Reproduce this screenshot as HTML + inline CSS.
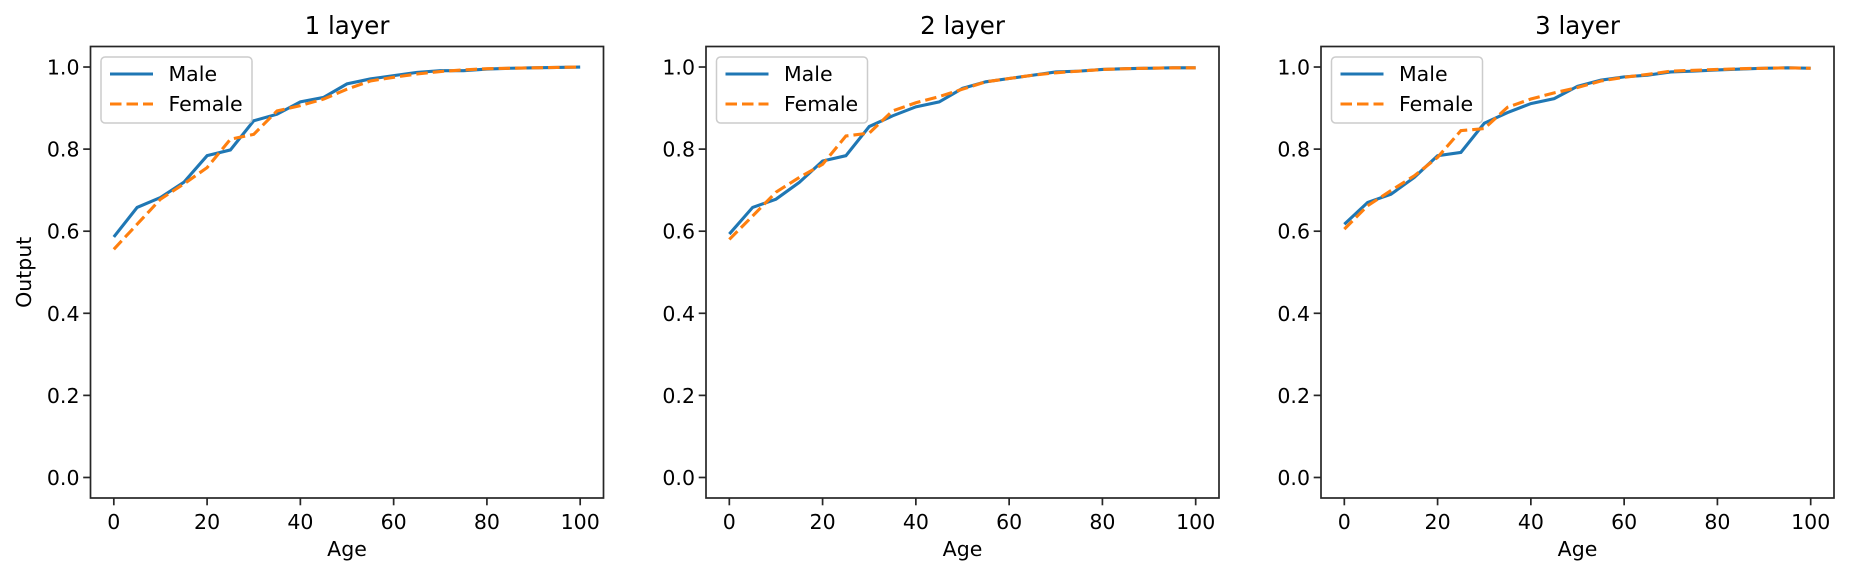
<!DOCTYPE html>
<html><head><meta charset="utf-8"><style>
html,body{margin:0;padding:0;background:#fff}
svg{display:block;font-family:"DejaVu Sans","Liberation Sans",sans-serif;fill:#000}
</style></head><body>
<svg id="chart" width="1849" height="577" xmlns="http://www.w3.org/2000/svg"></svg>
<script>
const ages = [0,5,10,15,20,25,30,35,40,45,50,55,60,65,70,75,80,85,90,95,100];
const panelTitles = ["1 layer","2 layer","3 layer"];
const male1 = [0.586,0.658,0.682,0.719,0.784,0.798,0.869,0.885,0.915,0.926,0.959,0.971,0.979,0.987,0.991,0.991,0.995,0.997,0.998,0.999,1.0];
const female1 = [0.556,0.617,0.678,0.715,0.755,0.824,0.836,0.893,0.906,0.922,0.946,0.966,0.975,0.983,0.989,0.993,0.996,0.997,0.998,0.999,1.0];
const male2 = [0.593,0.658,0.678,0.719,0.771,0.784,0.855,0.881,0.903,0.915,0.948,0.964,0.972,0.98,0.988,0.99,0.994,0.996,0.997,0.998,0.998];
const female2 = [0.580,0.637,0.695,0.731,0.763,0.832,0.839,0.893,0.913,0.928,0.946,0.964,0.972,0.98,0.986,0.99,0.994,0.996,0.997,0.998,0.998];
const male3 = [0.617,0.670,0.690,0.731,0.784,0.792,0.863,0.889,0.911,0.923,0.953,0.968,0.976,0.98,0.988,0.99,0.993,0.995,0.997,0.998,0.997];
const female3 = [0.605,0.662,0.699,0.735,0.780,0.845,0.850,0.902,0.922,0.937,0.95,0.966,0.975,0.982,0.99,0.992,0.994,0.996,0.997,0.998,0.997];
const xTicks = [0,20,40,60,80,100];
const yTicks = [0.0,0.2,0.4,0.6,0.8,1.0];

const svg = document.getElementById('chart');
const NS = 'http://www.w3.org/2000/svg';
function mk(tag, attrs, parent){const e=document.createElementNS(NS,tag);for(const k in attrs)e.setAttribute(k,attrs[k]);(parent||svg).appendChild(e);return e;}
const lefts=[90.5,706,1321], W=513, TOP=46.5, BOT=498;
const maleSets=[male1,male2,male3], femaleSets=[female1,female2,female3];
const FS='20.5';
for(let p=0;p<3;p++){
  const L=lefts[p];
  const xs=v=>L+(v+5)/110*W;
  const ys=v=>BOT-(v+0.05)/1.1*(BOT-TOP);
  const g=mk('g',{});
  
  
  const t=mk('text',{x:L+W/2,y:34,'text-anchor':'middle','font-size':'24.5'},g);
  t.textContent=panelTitles[p];
  
  
  xTicks.forEach(v=>{
    mk('line',{x1:xs(v),x2:xs(v),y1:BOT,y2:BOT+7.3,stroke:'#262626','stroke-width':1.7},g);
    const tx=mk('text',{x:xs(v),y:BOT+31,'text-anchor':'middle','font-size':FS},g);
    tx.textContent=v;
    
    
  });
  yTicks.forEach(v=>{
    mk('line',{x1:L-7.3,x2:L,y1:ys(v),y2:ys(v),stroke:'#262626','stroke-width':1.7},g);
    const ty=mk('text',{x:L-11,y:ys(v)+7.5,'text-anchor':'end','font-size':FS},g);
    ty.textContent=v.toFixed(1);
    
    
  });
  const xl=mk('text',{x:L+W/2,y:556,'text-anchor':'middle','font-size':FS},g);
  xl.textContent='Age';
  
  
  if(p===0){
    const yl=mk('text',{x:0,y:0,'text-anchor':'middle','font-size':FS,transform:'translate(31,'+((TOP+BOT)/2)+') rotate(-90)'},g);
    yl.textContent='Output';
    
    
  }
  const m=mk('polyline',{points:ages.map((a,i)=>xs(a)+','+ys(maleSets[p][i])).join(' '),fill:'none',stroke:'#1f77b4','stroke-width':3.1},g);
  
  
  const f=mk('polyline',{points:ages.map((a,i)=>xs(a)+','+ys(femaleSets[p][i])).join(' '),fill:'none',stroke:'#ff7f0e','stroke-width':3.1,'stroke-dasharray':'11.5,5'},g);
  
  
  mk('rect',{x:L,y:TOP,width:W,height:BOT-TOP,fill:'none',stroke:'#262626','stroke-width':1.7},g);
  const lg=mk('g',{},g);
  
  
  mk('rect',{x:L+10.5,y:57,width:151,height:66,rx:4,fill:'#fff','fill-opacity':0.8,stroke:'#ccc','stroke-width':1.5},lg);
  mk('line',{x1:L+19.5,x2:L+62.5,y1:74,y2:74,stroke:'#1f77b4','stroke-width':3.1},lg);
  mk('line',{x1:L+19.5,x2:L+62.5,y1:104,y2:104,stroke:'#ff7f0e','stroke-width':3.1,'stroke-dasharray':'11.5,5'},lg);
  const t1=mk('text',{x:L+78,y:81,'font-size':FS},lg);t1.textContent='Male';
  
  
  const t2=mk('text',{x:L+78,y:111,'font-size':FS},lg);t2.textContent='Female';
  
  
}
</script>
</body></html>
